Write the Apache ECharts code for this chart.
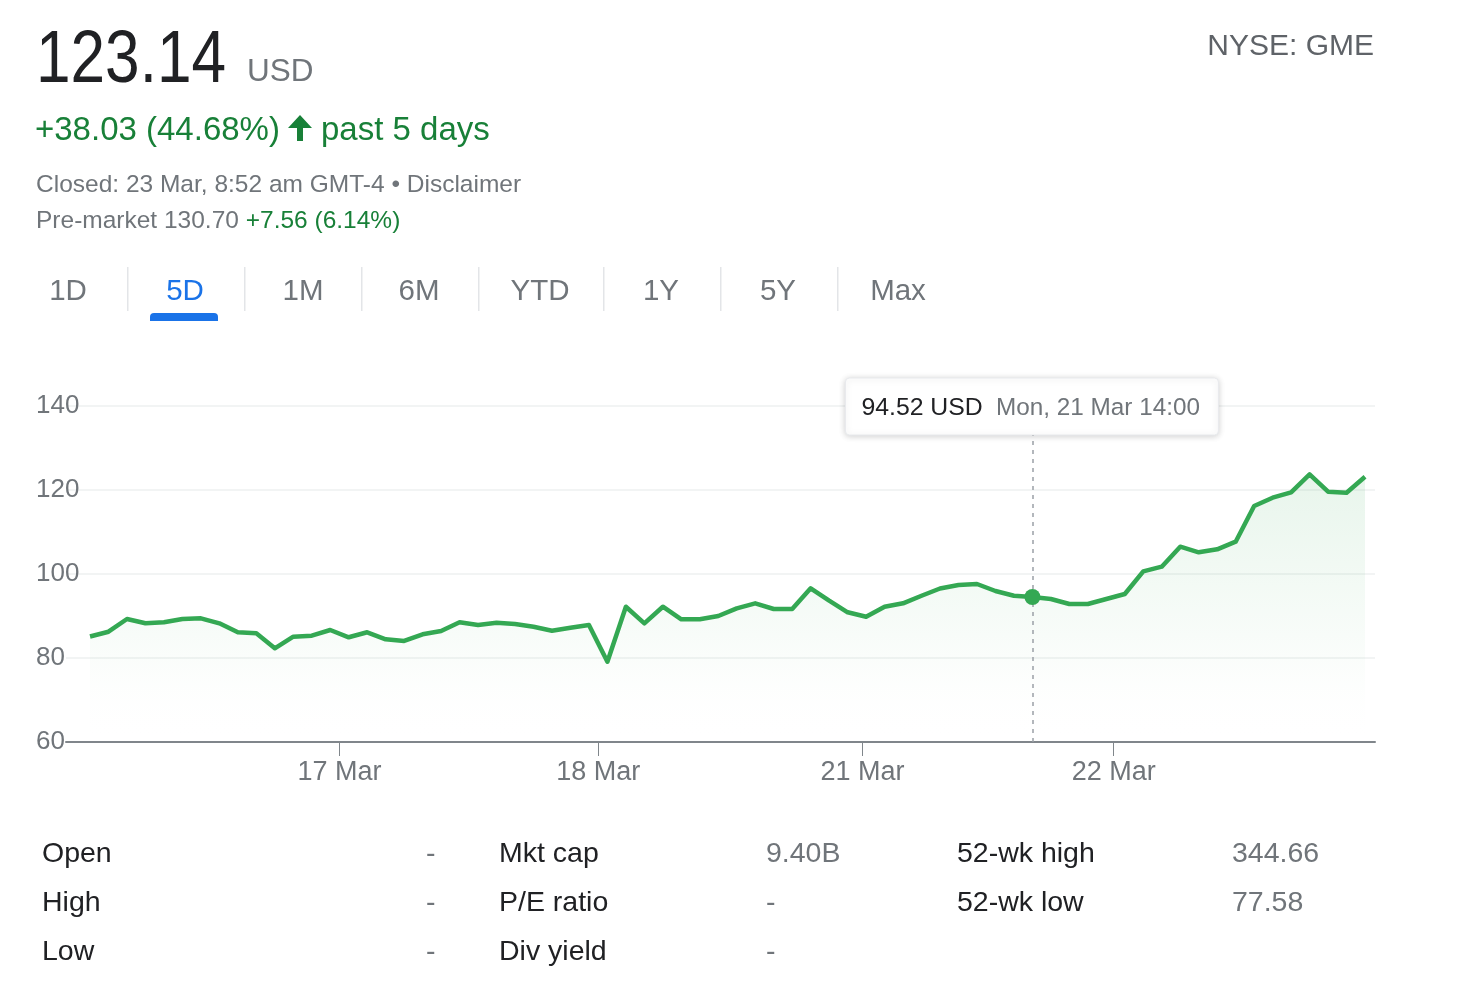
<!DOCTYPE html>
<html>
<head>
<meta charset="utf-8">
<script src="https://cdn.jsdelivr.net/npm/echarts@6/dist/echarts.min.js"></script>
<style>
html,body{margin:0;padding:0;background:#fff;}
#chart{width:1480px;height:993px;}
</style>
</head>
<body>
<div id="chart"></div>
<script>
// ---- Data ----
// 30-minute closing prices, 16 Mar – 22 Mar (14 points per trading day)
const prices = [
  85.11, 86.26, 89.29, 88.26, 88.50, 89.29, 89.45, 88.26, 86.12, 85.88, 82.31, 85.07, 85.31, 86.67,
  84.93, 86.12, 84.45, 84.05, 85.64, 86.43, 88.50, 87.86, 88.40, 88.10, 87.45, 86.50, 87.21, 87.86,
  79.12, 92.21, 88.26, 92.21, 89.21, 89.21, 90.00, 91.83, 93.02, 91.67, 91.67, 96.60, 93.64, 90.88,
  89.83, 92.21, 93.02, 94.83, 96.55, 97.38, 97.62, 95.95, 94.83, 94.52, 94.05, 92.86, 92.86, 94.05,
  95.24, 100.64, 101.74, 106.50, 105.17, 105.88, 107.69, 116.19, 118.17, 119.45, 123.74, 119.60, 119.36, 123.14
];
const dayLabels = ['17 Mar', '18 Mar', '21 Mar', '22 Mar'];
const dayBoundaries = [13.5, 27.5, 41.8, 55.4];
const yTicks = [60, 80, 100, 120, 140];
const hoverIndex = 51;
const hoverValue = prices[hoverIndex];
const hoverLabel = 'Mon, 21 Mar 14:00';

const tabs = ['1D', '5D', '1M', '6M', 'YTD', '1Y', '5Y', 'Max'];
const tabCenters = [68, 185, 303, 419, 540, 661, 778, 898];
const tabSeparators = [127, 244, 361, 478, 603, 720, 837];

const statsLabels = [['Open', 'High', 'Low'], ['Mkt cap', 'P/E ratio', 'Div yield'], ['52-wk high', '52-wk low']];
const statsValues = [['-', '-', '-'], ['9.40B', '-', '-'], ['344.66', '77.58']];

// ---- Chart ----
const FONT = 'Arial, "Liberation Sans", sans-serif';
const GREEN_LINE = '#34a853';
const GREEN_TEXT = '#188038';
const GREY = '#70757a';
const DARK = '#202124';

const chart = echarts.init(document.getElementById('chart'), null, {renderer: 'canvas'});
const seriesData = prices.map((v, i) => [i, v]);

const option = {
  backgroundColor: '#ffffff',
  animation: false,
  grid: {left: 66, right: 105, top: 406, bottom: 251, containLabel: false},
  xAxis: {
    type: 'value',
    min: -1.3,
    max: 69.54,
    axisLine: {show: true, lineStyle: {color: '#80868b', width: 2}},
    axisTick: {show: true, customValues: dayBoundaries, length: 14, lineStyle: {color: '#80868b', width: 1}},
    axisLabel: {
      show: true,
      customValues: dayBoundaries,
      formatter: function (v) {
        const k = dayBoundaries.indexOf(v);
        return k >= 0 ? dayLabels[k] : '';
      },
      color: GREY, fontSize: 27, fontFamily: FONT, margin: 17
    },
    splitLine: {show: false}
  },
  yAxis: {
    type: 'value',
    min: yTicks[0],
    max: yTicks[yTicks.length - 1],
    interval: 20,
    axisLine: {show: false},
    axisTick: {show: false},
    axisLabel: {color: GREY, fontSize: 26, fontFamily: FONT, align: 'left', margin: 30, padding: [3, 0, 0, 0]},
    splitLine: {show: true, lineStyle: {color: '#eef0f1', width: 1.5}}
  },
  series: [{
    type: 'line',
    data: seriesData,
    showSymbol: false,
    symbol: 'none',
    lineStyle: {color: GREEN_LINE, width: 4.5, join: 'round'},
    areaStyle: {
      color: new echarts.graphic.LinearGradient(0, 0, 0, 1, [
        {offset: 0, color: 'rgba(52,168,83,0.16)'},
        {offset: 0.7, color: 'rgba(52,168,83,0.03)'},
        {offset: 1, color: 'rgba(255,255,255,0)'}
      ])
    },
    markLine: {
      silent: true,
      symbol: 'none',
      label: {show: false},
      lineStyle: {color: '#9aa0a6', type: [4, 5], width: 1.5},
      data: [{xAxis: hoverIndex}]
    },
    markPoint: {
      silent: true,
      symbol: 'circle',
      symbolSize: 16,
      itemStyle: {color: GREEN_LINE},
      label: {show: false},
      data: [{coord: [hoverIndex, hoverValue]}]
    },
    z: 3
  }]
};
chart.setOption(option);

// ---- Text / UI graphics ----
function txt(x, y, text, size, color, extra) {
  return Object.assign({
    type: 'text', x: x, y: y, silent: true,
    style: {text: text, fill: color, font: size + 'px ' + FONT, textVerticalAlign: 'middle'}
  }, extra || {});
}

const g = [];
g.push(txt(31, 62, '123.14', 74, DARK, {scaleX: 0.84, originX: 31}));
g.push(txt(247, 72, 'USD', 31.5, GREY));
g.push({type: 'text', x: 1374, y: 47, silent: true,
  style: {text: 'NYSE: GME', fill: '#5f6368', font: '30px ' + FONT, textAlign: 'right', textVerticalAlign: 'middle'}});
g.push(txt(35, 131, '+38.03 (44.68%)', 33, GREEN_TEXT));
g.push({type: 'polygon', silent: true, shape: {points: [[288, 128], [300, 115], [312, 128], [303, 128], [303, 141], [297, 141], [297, 128]]}, style: {fill: GREEN_TEXT}});
g.push(txt(321, 131, 'past 5 days', 33, GREEN_TEXT));
g.push(txt(36, 185, 'Closed: 23 Mar, 8:52 am GMT-4 \u2022 Disclaimer', 24.5, GREY));
g.push({
  type: 'text', x: 36, y: 221, silent: true,
  style: {
    text: '{a|Pre-market 130.70 }{b|+7.56 (6.14%)}',
    textVerticalAlign: 'middle',
    rich: {
      a: {fill: GREY, font: '24.5px ' + FONT},
      b: {fill: GREEN_TEXT, font: '24.5px ' + FONT}
    }
  }
});

tabs.forEach((t, i) => {
  g.push({type: 'text', x: tabCenters[i], y: 292, silent: true,
    style: {text: t, fill: t === '5D' ? '#1a73e8' : GREY, font: '29.5px ' + FONT, textAlign: 'center', textVerticalAlign: 'middle'}});
});
tabSeparators.forEach(x => {
  g.push({type: 'rect', silent: true, shape: {x: x, y: 267, width: 1.5, height: 44}, style: {fill: '#e3e5e8'}});
});
g.push({type: 'rect', silent: true, shape: {x: 150, y: 313, width: 68, height: 8, r: [4, 4, 0, 0]}, style: {fill: '#1a73e8'}});

const colLabelX = [42, 499, 957];
const colValueX = [426, 766, 1232];
const rowY = [854, 903, 952];
statsLabels.forEach((col, c) => {
  col.forEach((lab, r) => {
    g.push(txt(colLabelX[c], rowY[r], lab, 28.5, DARK));
    g.push(txt(colValueX[c], rowY[r], statsValues[c][r], 28.5, GREY));
  });
});

// tooltip box anchored on the hovered data point
const hp = chart.convertToPixel({gridIndex: 0}, [hoverIndex, hoverValue]);
const boxW = 373, boxH = 57;
const boxX = hp[0] - 187, boxY = 378;
g.push({type: 'rect', silent: true, z: 20,
  shape: {x: boxX, y: boxY, width: boxW, height: boxH, r: 4},
  style: {fill: '#ffffff', stroke: '#e8eaed', lineWidth: 1, shadowBlur: 6, shadowColor: 'rgba(0,0,0,0.18)', shadowOffsetY: 1}});
g.push({type: 'text', x: boxX + 16, y: boxY + boxH / 2 + 2, silent: true, z: 21,
  style: {
    text: '{a|' + hoverValue.toFixed(2) + ' USD}{s|  }{b|' + hoverLabel + '}',
    textVerticalAlign: 'middle',
    rich: {
      a: {fill: DARK, font: '24.8px ' + FONT},
      s: {font: '24px ' + FONT},
      b: {fill: GREY, font: '24.3px ' + FONT}
    }
  }});

chart.setOption({graphic: {elements: g}});
</script>
</body>
</html>
